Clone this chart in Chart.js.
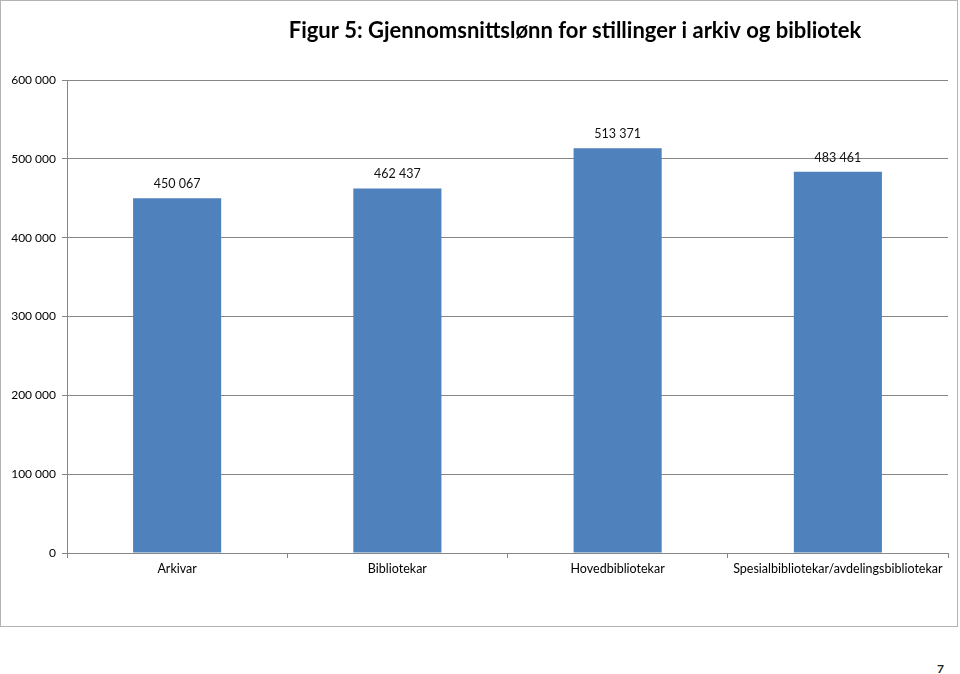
<!DOCTYPE html>
<html>
<head>
<meta charset="utf-8">
<script src="https://cdn.jsdelivr.net/npm/chart.js@4.4.1/dist/chart.umd.min.js"></script>
<style>
    body { margin: 0; background: #fff; width: 960px; height: 674px; position: relative; overflow: hidden; }
    #frame { position: absolute; left: 0; top: 0; width: 956px; height: 625px; border: 1px solid #b3b3b3; }
    #pageNo { position: absolute; left: 937px; top: 661px; font: bold 12px Lato, sans-serif; color: #222; }
</style>
</head>
<body>
<div id="frame"><canvas id="myChart" width="956" height="625"></canvas></div>
<div id="pageNo">7</div>
<script>
// Data
const titleText = 'Figur 5: Gjennomsnittslønn for stillinger i arkiv og bibliotek';
const categories = ['Arkivar', 'Bibliotekar', 'Hovedbibliotekar', 'Spesialbibliotekar/avdelingsbibliotekar'];
const salaries = [450067, 462437, 513371, 483461];
const yTicks = [0, 100000, 200000, 300000, 400000, 500000, 600000];

const axisGrey = '#868686';
const fontFamily = 'Lato, "Open Sans", sans-serif';

// Norwegian style thousands: "450 067"
function fmt(v) {
    return String(Math.round(v)).replace(/\B(?=(\d{3})+(?!\d))/g, ' ');
}

// Title drawn at a fixed spot over the plot
const titlePlugin = {
    id: 'figTitle',
    afterDraw(chart) {
        const ctx = chart.ctx;
        ctx.save();
        ctx.font = 'bold 22px ' + fontFamily;
        ctx.fillStyle = '#000';
        ctx.textAlign = 'center';
        ctx.textBaseline = 'middle';
        ctx.fillText(titleText, 574, 30);
        ctx.restore();
    }
};

// Value labels above bars
const valueLabels = {
    id: 'valueLabels',
    afterDatasetsDraw(chart) {
        const ctx = chart.ctx;
        const meta = chart.getDatasetMeta(0);
        ctx.save();
        ctx.font = '12.5px ' + fontFamily;
        ctx.fillStyle = '#111';
        ctx.textAlign = 'center';
        ctx.textBaseline = 'middle';
        meta.data.forEach((bar, i) => {
            ctx.fillText(fmt(chart.data.datasets[0].data[i]), bar.x, bar.y - 14);
        });
        ctx.restore();
    }
};

const ctx = document.getElementById('myChart').getContext('2d');
new Chart(ctx, {
    type: 'bar',
    data: {
        labels: categories,
        datasets: [{
            data: salaries,
            backgroundColor: '#4f81bd',
            borderWidth: 0,
            barPercentage: 0.4,
            categoryPercentage: 1.0
        }]
    },
    options: {
        responsive: false,
        animation: false,
        layout: { padding: { top: 79, right: 9, left: 0, bottom: 0 } },
        plugins: {
            legend: { display: false },
            tooltip: { enabled: false }
        },
        scales: {
            x: {
                offset: true,
                afterFit(scale) { scale.height = 73; },
                grid: {
                    offset: true,
                    drawOnChartArea: false,
                    drawTicks: true,
                    tickLength: 5,
                    color: axisGrey
                },
                border: { color: axisGrey, width: 1 },
                ticks: {
                    color: '#000',
                    font: { family: fontFamily, size: 12.5 },
                    padding: 3,
                    maxRotation: 0,
                    autoSkip: false
                }
            },
            y: {
                min: 0,
                max: 600000,
                afterFit(scale) { scale.width = 66; },
                afterBuildTicks(scale) { scale.ticks = yTicks.map(v => ({ value: v })); },
                grid: {
                    color: axisGrey,
                    tickLength: 5,
                    drawTicks: true
                },
                border: { color: axisGrey, width: 1 },
                ticks: {
                    color: '#000',
                    font: { family: fontFamily, size: 12 },
                    padding: 6,
                    callback: v => fmt(v)
                }
            }
        }
    },
    plugins: [titlePlugin, valueLabels]
});
</script>
</body>
</html>
